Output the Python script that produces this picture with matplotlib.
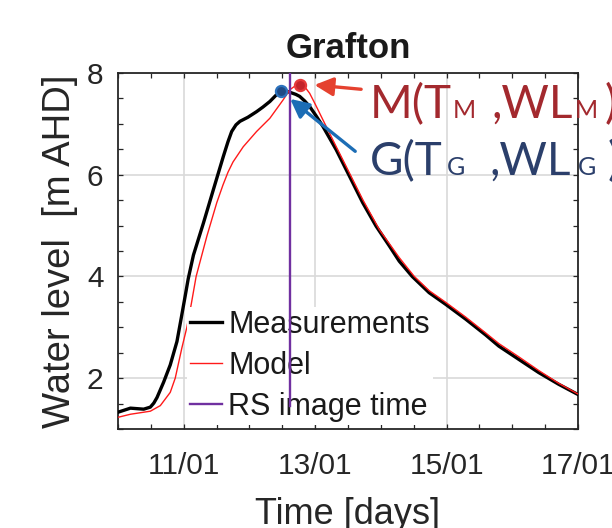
import matplotlib
matplotlib.use("Agg")
import matplotlib.pyplot as plt
from matplotlib.ticker import MultipleLocator

# ---------------- data (days in January, water level m AHD) ----------------
meas_day = [10.000, 10.189, 10.391, 10.492, 10.545, 10.594, 10.694, 10.795, 10.897,
            10.962, 11.023, 11.068, 11.148, 11.300, 11.452, 11.603, 11.674, 11.730,
            11.795, 11.856, 11.977, 12.109, 12.205, 12.311, 12.402, 12.488, 12.568,
            12.639, 12.705, 12.765, 12.841, 12.917, 13.008, 13.118, 13.321, 13.523,
            13.724, 13.927, 14.129, 14.280, 14.477, 14.735, 14.988, 15.291, 15.594,
            15.795, 16.098, 16.402, 16.705, 16.982, 17.000]
meas_wl = [1.33, 1.41, 1.39, 1.43, 1.51, 1.62, 1.92, 2.26, 2.72,
           3.18, 3.62, 3.95, 4.42, 5.05, 5.71, 6.36, 6.65, 6.85,
           6.98, 7.05, 7.13, 7.24, 7.33, 7.44, 7.56, 7.65, 7.64,
           7.61, 7.58, 7.54, 7.45, 7.34, 7.17, 6.95, 6.49, 5.97,
           5.45, 4.99, 4.60, 4.30, 4.00, 3.68, 3.45, 3.16, 2.85,
           2.63, 2.37, 2.11, 1.88, 1.69, 1.68]

model_day = [10.000, 10.189, 10.492, 10.644, 10.795, 10.871, 10.973, 11.048, 11.114,
             11.189, 11.352, 11.503, 11.598, 11.674, 11.750, 11.906, 12.109, 12.311,
             12.512, 12.614, 12.689, 12.765, 12.841, 12.917, 13.008, 13.118, 13.321,
             13.523, 13.724, 13.977, 14.280, 14.508, 14.735, 14.988, 15.291, 15.594,
             15.795, 16.098, 16.402, 16.705, 16.982, 17.000]
model_wl = [1.23, 1.29, 1.35, 1.46, 1.72, 2.00, 2.60, 3.00, 3.45,
            4.00, 4.79, 5.45, 5.80, 6.05, 6.25, 6.55, 6.85, 7.11,
            7.47, 7.67, 7.74, 7.77, 7.73, 7.60, 7.37, 7.08, 6.55,
            6.03, 5.51, 4.92, 4.37, 4.00, 3.72, 3.49, 3.20, 2.89,
            2.68, 2.42, 2.15, 1.90, 1.70, 1.69]

rs_time = 12.61
rs_span = [1.45, 8.0]

peak_g = (12.48, 7.65)   # gauge peak
peak_m = (12.775, 7.77)  # model peak

xticks = [11, 13, 15, 17]
xticklabels = ["11/01", "13/01", "15/01", "17/01"]
yticks = [2, 4, 6, 8]

# ---------------- figure ----------------
W, H = 612, 528
plt.rcParams["font.family"] = ["Liberation Sans", "DejaVu Sans"]
fig = plt.figure(figsize=(W / 100, H / 100), dpi=100)
ax = fig.add_axes([118 / W, 1 - 429 / H, 460 / W, 356 / H])

ink = "#262626"
h_meas, = ax.plot(meas_day, meas_wl, color="black", lw=2.4, zorder=3,
                  solid_joinstyle="round")
h_mod, = ax.plot(model_day, model_wl, color="#ff1a1a", lw=1.0, zorder=3,
                 solid_joinstyle="round")
h_rs, = ax.plot([rs_time, rs_time], rs_span, color="#7030A0", lw=1.7, zorder=7)

ax.plot(*peak_g, "o", ms=8, mfc="#1f4a85", mec="#2c72bd", mew=1.6, zorder=8)
ax.plot(*peak_m, "o", ms=8, mfc="#c4242b", mec="#e63a3a", mew=1.6, zorder=8)

ax.annotate("", xy=(12.99, 7.765), xytext=(13.70, 7.68),
            arrowprops=dict(arrowstyle="-|>", color="#e5412f", lw=2.4,
                            mutation_scale=28, shrinkA=0, shrinkB=0),
            annotation_clip=False, zorder=8)
ax.annotate("", xy=(12.62, 7.49), xytext=(13.61, 6.46),
            arrowprops=dict(arrowstyle="-|>", color="#1c6db5", lw=2.4,
                            mutation_scale=28, shrinkA=0, shrinkB=0),
            annotation_clip=False, zorder=8)

ax.set_xlim(10, 17)
ax.set_ylim(1, 8)
ax.set_xticks(xticks)
ax.set_xticklabels(xticklabels)
ax.set_yticks(yticks)
ax.xaxis.set_minor_locator(MultipleLocator(0.5))
ax.yaxis.set_minor_locator(MultipleLocator(0.5))
ax.tick_params(which="both", direction="in", top=True, right=True, length=3.6,
               width=0.9, color=ink, labelsize=21.5, labelcolor=ink)
ax.tick_params(axis="x", which="major", pad=16.5)
ax.tick_params(axis="y", which="major", pad=10.5)
ax.grid(True, which="major", color="#d9d9d9", lw=1.2)
ax.set_axisbelow(True)
for sp in ax.spines.values():
    sp.set_color(ink)
    sp.set_linewidth(1.3)

ax.set_ylabel("Water level  [m AHD]", fontsize=27.5, color=ink)
ax.yaxis.set_label_coords(-0.087, 0.5)
ax.set_xlabel("Time [days]", fontsize=26, color=ink)
ax.xaxis.set_label_coords(0.5, -0.19)

fig.text(348 / W, 1 - 58 / H, "Grafton", ha="center", va="baseline",
         fontsize=25, fontweight="bold", color="#1a1a1a")

leg = ax.legend([h_meas, h_mod, h_rs], ["Measurements", "Model", "RS image time"],
                loc="upper left", bbox_to_anchor=(0.15, 0.343), fontsize=22,
                frameon=True, fancybox=False, facecolor="white", edgecolor="none",
                framealpha=1, borderpad=0.1, borderaxespad=0, handlelength=1.05,
                handletextpad=0.2, labelspacing=0.36)
leg.set_zorder(5)
for t in leg.get_texts():
    t.set_color("#1a1a1a")

# annotation labels M(T_M, WL_M) and G(T_G, WL_G), built piecewise (small-caps subscripts)
big, small = 33, 18
red_txt, blue_txt = "#a3292e", "#2b3f6b"
m_pieces = [("M(T", 370, big), ("M", 453, small), (",WL", 491, big),
            ("M", 575, small), (")", 605, big)]
g_pieces = [("G(T", 370, big), ("G", 447, small), (",WL", 489, big),
            ("G", 578, small), (")", 608, big)]
for s, xp, fs in m_pieces:
    fig.text(xp / W, 1 - 118 / H, s, fontsize=fs, color=red_txt, family="Lato",
             ha="left", va="baseline", zorder=10)
for s, xp, fs in g_pieces:
    fig.text(xp / W, 1 - 175 / H, s, fontsize=fs, color=blue_txt, family="Lato",
             ha="left", va="baseline", zorder=10)

fig.savefig("out.png", dpi=100)
